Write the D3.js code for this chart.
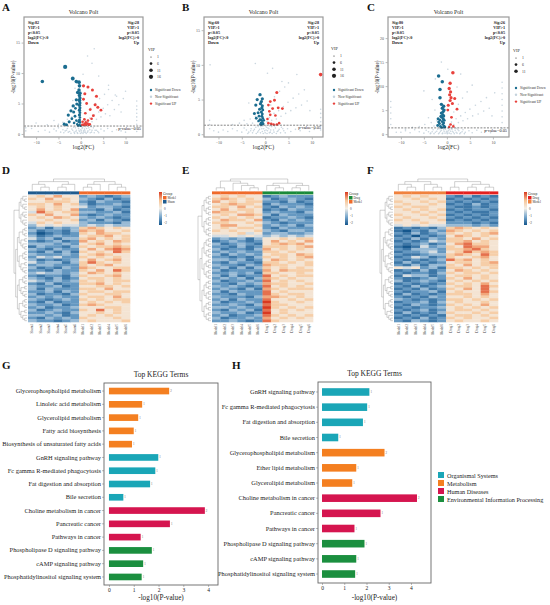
<!DOCTYPE html>
<html><head><meta charset="utf-8">
<script src="https://cdn.jsdelivr.net/npm/d3@7"></script>
<style>body{margin:0;background:#fff}svg{display:block;font-family:"Liberation Serif","Times New Roman",serif}</style>
</head><body><svg id="c" width="550" height="605"></svg>
<script>
// ---------------- DATA ----------------
const volcStats = [[82,28],[60,28],[80,26]];
const vipLevels = [[1,6,11,16],[1,6,11,16],[1,6,11]];
const volcXTicks = [-10,-5,0,5,10];
const volcYTicksAB = [0,5,10,15];
const volcYTicksC = [0,5,10,15,20];

const volcA_down = [[-0.3,1.5,4],[-0.2,1.9,6],[-0.3,2.3,8],[-0.2,2.7,6],[-0.3,3.1,9],[-0.2,3.5,7],[-0.3,3.9,10],[-0.2,4.3,8],[-0.3,4.7,11],[-0.2,5.1,9],[-0.3,5.5,12],[-0.2,5.9,10],[-0.3,6.3,11],[-0.2,6.7,12],[-0.4,7.2,11],[-0.3,7.9,12],[-0.4,8.5,13],[-0.8,1.6,5],[-1.0,2.2,6],[-1.3,2.9,7],[-1.6,3.6,8],[-1.2,4.2,7],[-0.9,4.9,8],[-1.5,1.8,6],[-2.0,2.5,7],[-2.6,2.0,8],[-3.2,1.5,8],[-3.7,1.6,9],[-2.8,3.1,9],[-2.2,3.8,9],[-1.7,4.6,10],[-1.0,5.6,10],[-0.7,6.8,11],[-1.0,8.6,12],[-1.8,9.1,13],[-3.5,11.0,16],[-8.6,8.6,11],[-0.6,1.4,5],[-0.1,1.35,6],[-0.5,2.0,6]];
const volcA_up = [[0.6,7.9,9],[1.6,7.7,8],[2.6,7.2,8],[0.6,5.7,7],[1.3,5.0,7],[3.2,4.8,8],[3.8,4.4,8],[2.1,4.0,7],[4.5,3.9,7],[1.0,3.4,6],[2.8,3.0,7],[0.6,1.5,6],[0.9,1.6,7],[1.2,1.5,6],[1.5,1.7,7],[1.8,1.5,6],[0.4,2.0,6],[0.8,2.4,6],[2.0,1.6,6],[0.3,1.5,5],[1.1,1.9,6],[1.6,2.2,6],[2.4,2.5,6],[3.5,6.2,8],[0.9,6.6,8]];
const volcA_ns = [[-9.5,0.4],[-8,0.6],[-7,0.3],[-6,0.8],[-5.5,0.5],[-5,1.0],[-4.5,0.3],[-4,0.7],[-3.5,0.5],[-3,0.9],[-2.5,0.4],[-2,0.8],[-1.5,0.3],[-1.2,1.0],[-1,0.6],[-0.8,0.2],[-0.5,0.9],[-0.3,0.4],[0,0.7],[0.2,0.2],[0.4,1.1],[0.6,0.5],[0.8,0.8],[1,0.3],[1.3,0.9],[1.6,0.5],[2,0.7],[2.4,0.3],[2.8,1.0],[3.2,0.6],[3.8,0.4],[4.5,0.8],[5.2,0.5],[6,0.9],[7,0.4],[8,0.7],[9,0.5],[10,0.3],
[-3.8,0.2],[-3.2,0.6],[-2.8,0.3],[-2.2,0.1],[-1.8,0.6],[-1.4,0.1],[-1.1,0.4],[-0.7,0.1],[-0.4,0.6],[-0.1,0.1],[0.1,0.5],[0.3,0.9],[0.5,0.1],[0.7,0.3],[0.9,0.6],[1.2,0.1],[1.5,0.3],[1.8,1.0],[2.1,0.2],[2.5,0.6],[3,0.2],[3.5,0.6],[4,0.2],[0.2,1.2],[-0.6,1.2],[1,1.2],[-1.6,1.1],[2.3,1.2],
[0.5,1.6],[1,2.2],[1.5,1.8],[2,2.6],[2.5,2.0],[3,3.1],[3.5,2.4],[4,3.6],[4.5,2.8],[5,4.2],[5.5,3.3],[6,4.8],[6.5,3.0],[7,5.5],[7.5,4.0],[8,6.2],[8.5,4.8],[9,3.6],[9.5,5.8],[10,7.0],[1.2,3.4],[2.2,4.2],[3.3,5.0],[4.2,5.8],[5.3,6.5],[6.2,7.3],[7.7,6.4],[6.2,8.0],[2.5,11.6],[4,9.5],[-1.5,2.0],[-2,2.8],[-2.6,1.8],[-3,2.4],[-4,1.9],[-5,1.6],[-6,2.2],[-7.5,1.5],[-10,1.8],[-11,0.9],[-1.8,5.5],[-1.3,7.5],[0.5,9.8],[1.5,12.8],[3,14],
[12.5,0.4],[12.5,1.0],[12.5,1.6],[12.5,2.2],[12.5,2.8],[12.5,3.4],[12.5,4.0],[12.5,4.6],[12.5,5.4],[-12.3,0.5],[-12.3,1.0]];

const volcB_down = [[-0.7,1.4,5],[-0.6,1.7,6],[-0.8,2.0,7],[-0.5,2.3,6],[-0.7,2.6,8],[-0.6,2.9,7],[-0.8,3.2,8],[-0.5,3.5,7],[-0.7,3.8,9],[-0.6,4.1,8],[-1.0,4.4,9],[-0.9,1.6,6],[-1.1,2.1,7],[-1.3,2.6,7],[-1.5,3.1,8],[-1.2,3.6,8],[-1.7,5.0,9],[-1.1,5.7,10],[-2.0,4.2,9],[-2.3,3.0,8],[-0.4,1.5,5],[-1.0,1.4,6],[-1.4,1.9,6],[-0.3,2.0,6],[-1.9,2.3,7],[-0.8,4.7,9],[-0.6,5.1,9]];
const volcB_up = [[2.5,6.0,8],[2.0,4.9,7],[1.1,4.7,7],[0.7,4.2,6],[1.6,3.7,7],[2.8,3.8,7],[3.7,3.7,7],[1.1,2.8,6],[0.7,1.6,6],[1.3,1.5,6],[1.8,1.4,6],[2.5,1.4,6],[3.0,1.6,6],[0.5,2.2,6],[0.9,3.3,6],[2.2,2.7,6],[11.9,8.6,12]];
const volcB_ns = [[-10,0.3],[-9,0.6],[-8,0.4],[-7,0.8],[-6,0.5],[-5,0.3],[-4.5,0.9],[-4,0.6],[-3.5,0.3],[-3,0.8],[-2.5,0.5],[-2,1.0],[-1.6,0.3],[-1.2,0.7],[-0.9,1.1],[-0.6,0.4],[-0.3,0.8],[0,0.2],[0.3,1.0],[0.5,0.5],[0.8,0.8],[1.1,0.3],[1.4,1.1],[1.8,0.6],[2.2,0.9],[2.6,0.4],[3,0.7],[3.5,1.0],[4,0.5],[4.8,0.8],[5.5,0.4],[6.5,0.7],[7.5,0.5],[8.5,0.9],[9.5,0.4],[10.5,0.7],[-11,0.5],
[-3.7,0.1],[-3.1,0.5],[-2.7,0.2],[-2.3,0.7],[-1.9,0.1],[-1.4,0.5],[-1.0,0.2],[-0.7,0.8],[-0.4,0.1],[-0.1,0.5],[0.2,0.6],[0.4,0.1],[0.6,0.9],[0.9,0.2],[1.2,0.6],[1.5,0.1],[1.9,0.3],[2.4,0.1],[2.8,0.5],[3.3,0.2],[3.8,0.8],[4.3,0.2],[0.1,1.2],[-0.5,1.2],[1.0,1.2],[-1.5,1.1],[2.0,1.2],
[0.4,1.8],[0.9,2.4],[1.4,2.0],[1.9,3.0],[2.4,2.2],[2.9,3.4],[3.4,2.6],[3.9,4.0],[4.4,3.0],[4.9,4.6],[5.5,3.4],[6,5.2],[6.6,3.8],[7.2,5.8],[7.8,4.2],[8.4,6.4],[9,4.8],[9.6,3.4],[1.2,4.2],[2.0,5.4],[3.1,6.2],[4.2,6.8],[3.6,7.6],[5.0,7.4],[-1.6,1.8],[-2.1,2.6],[-2.7,1.6],[-3.2,2.2],[-3.9,1.5],[-4.5,2.0],[-5.5,1.6],[-7,1.4],[-2.1,10.2],[-11.8,10.0],[0.5,8.8],[1.6,9.5],[-3.5,4.5],[6.8,8.6],
[11.9,0.6],[11.9,1.2],[11.9,1.8],[11.9,2.4],[11.9,3.0],[11.9,3.6],[-11.9,0.8],[-11.9,1.4],[-11.9,2.0]];

const volcC_down = [[-0.8,1.4,5],[-0.6,1.7,6],[-0.9,2.0,6],[-0.7,2.3,7],[-1.0,2.6,7],[-0.6,2.9,8],[-0.8,3.2,8],[-1.1,3.5,8],[-0.7,3.8,9],[-0.9,4.1,8],[-1.2,4.4,9],[-0.8,4.7,9],[-0.6,5.0,9],[-1.0,5.4,10],[-0.7,5.8,10],[-1.4,1.6,6],[-1.6,2.2,7],[-1.5,2.9,7],[-1.3,3.7,8],[-1.8,2.5,7],[-1.2,6.2,10],[-1.5,7.6,11],[-1.5,9.3,11],[-1.0,10.9,11],[-1.8,12.1,11],[-0.4,1.5,5],[-1.2,1.4,6],[-2.0,1.8,7],[-1.9,3.2,8]];
const volcC_up = [[1.3,12.8,11],[0.7,10.6,10],[0.5,9.5,10],[0.8,8.8,9],[0.6,8.2,9],[0.9,7.6,9],[0.7,7.0,9],[1.7,7.4,8],[0.3,6.0,8],[0.2,5.0,7],[1.0,3.5,7],[0.8,2.0,6],[0.5,1.5,5],[1.4,1.6,6],[2.2,5.2,7],[1.2,6.4,8]];
const volcC_ns = [[-10,0.4],[-9,0.7],[-8,0.3],[-7,0.9],[-6,0.5],[-5,0.2],[-4.5,0.8],[-4,0.5],[-3.5,0.2],[-3,0.9],[-2.5,0.4],[-2,1.0],[-1.6,0.3],[-1.2,0.8],[-0.9,0.2],[-0.6,0.6],[-0.3,1.0],[0,0.3],[0.3,0.8],[0.5,0.2],[0.8,0.6],[1.1,1.0],[1.4,0.4],[1.8,0.8],[2.2,0.2],[2.6,0.7],[3,0.3],[3.5,0.9],[4,0.4],[4.8,0.7],[5.5,0.3],[6.5,0.8],[7.5,0.4],[8.5,0.7],[9.5,0.3],[10.5,0.6],[-11,0.4],
[-3.6,0.1],[-3.2,0.5],[-2.8,0.1],[-2.2,0.6],[-1.8,0.1],[-1.4,0.6],[-1.0,0.1],[-0.7,0.9],[-0.4,0.2],[-0.1,0.6],[0.1,0.1],[0.2,0.5],[0.6,0.9],[0.9,0.1],[1.2,0.6],[1.6,0.1],[2.0,0.4],[2.4,0.9],[2.8,0.1],[3.3,0.5],[3.8,0.1],[0.3,1.2],[-0.5,1.2],[1.0,1.2],[-1.5,1.1],[2.1,1.2],
[0.5,1.8],[1.0,2.5],[1.5,2.0],[2.0,3.2],[2.5,2.4],[3.0,3.8],[3.5,2.8],[4.0,4.5],[4.5,3.2],[5.0,5.2],[5.6,3.8],[6.2,6.0],[6.8,4.2],[7.4,6.8],[8.0,4.8],[8.6,7.6],[9.2,5.4],[9.8,3.8],[10.4,8.6],[1.5,4.6],[2.5,6.2],[3.4,7.5],[4.4,8.8],[2.2,9.8],[5.5,10.2],[-1.6,1.9],[-2.2,2.8],[-2.8,1.7],[-3.4,2.4],[-4.0,3.4],[-4.8,2.0],[-6.0,1.6],[-7.5,1.4],[-9,1.0],[-2.6,5.0],[-3.2,7.2],[-2.5,11.5],[0.2,13.5],[-1.2,15],[3,12.5],[-5,9],
[12,1.2],[12,2.4],[12,3.6],[12,4.8],[12,6.0],[12,7.2],[12,8.4],[12,9.6],[12,10.8],[-12.2,2.0],[-12.2,3.2],[-12.2,4.4],[-12.2,5.6],[-12.2,6.8]];

// heatmap values: each digit 0..9 (0 = lowest z-score, 9 = highest)
const heatD = ["565755232123","657565321312","556665213221","665756312232","565655423321","575657221312","486566332231","657557212322","565765323212","556556231321","465655322213","354544343433",
"231323676565","312213767556","201212657665","312322566756","423133675656","212312756576","333232567565","132213656676","321322575787","213131656586","322232567655","243422656565","312123575675","423313686565","233222656755","312132765566","221322657586","343323576565","212213655675","321312566565","432323656566","213122667565","322312556656","313222665755","223132566566","312213655665","232322566575","321232656566","213122565656","322312676555","231223555665","312322658565","223213556565","332312565655","213232655565","322123565556"];
const heatE = ["565655123222","676565312321","756566221312","567665132221","665756213232","575665121322","766565232213","565776313222","656565122321","576657213232","665565321222","577556232313","565665213222","656556321332","555645233223","445454343434",
"232313556566","123212575657","312321567675","221312666567","312213756565","232322665655","313232566576","221213656567","332312576565","213221665656","322132766556","231313656565","312222757666","223231665565","313122856566","232313765655","312232856565","221323766556","323212856565","232131765666","313222856555","221322865665","322213776565","231322855656","312232965565","223213866555","332322965656","213231856565","322312956555","231223865656","312232756565","223212865555"];
const heatF = ["565655213121","556565121212","655656212121","565565121312","656655211212","565656121221","556565212112","655656121212","565565212121","656556121212","555655222121","454544333232",
"121213676565","102132765656","213123656567","120212576565","213132665756","121243667565","212312578665","101423658775","213332667865","122342568676","211233676586","124312655675","212123867565","131212566567","213133657566","545231665656","121312576565","212213656656","143312566565","211232657565","312321565656","121212656575","213123566586","121312657585","212231565586","131212666575","212132556565","321212665656","122313565565","213212656575","121223565656","212312566565","131213655656","212121566565","121312656556","213212565565"];
const heatSplits = [12,16,12];
const colTrees = [
  [[[0,[1,2]],[[3,4],5]],[[[6,7],8],[9,[10,11]]]],
  [[[0,1],[2,[3,[4,5]]]],[[6,[7,8]],[[9,10],11]]],
  [[[0,[1,2]],[3,[4,5]]],[[6,7],[[8,9],[10,11]]]]
];
const groupNames = [["Sham","Model"],["Model","Drug"],["Model","Drug"]];
const groupColors = [["#1f5b8e","#ee6a2c"],["#ef6a2a","#1a8a3a"],["#f0823e","#e3201f"]];
const samples = [
  ["Sham1","Sham2","Sham3","Sham4","Sham5","Sham6","Model1","Model2","Model3","Model4","Model5","Model6"],
  ["Model1","Model2","Model3","Model4","Model5","Model6","Drug1","Drug2","Drug3","Drug4","Drug5","Drug6"],
  ["Model1","Model2","Model3","Model4","Model5","Model6","Drug1","Drug2","Drug3","Drug4","Drug5","Drug6"]
];
const heatLegendTicks = [1,0,-1,-2];

const keggCategories = ["Organismal Systems","Metabolism","Human Diseases","Environmental Information Processing"];
const keggColors = ["#1aa6b7","#f47f20","#d5154f","#1b8f3f"];
const keggG_terms = ["Glycerophospholipid metabolism","Linoleic acid metabolism","Glycerolipid metabolism","Fatty acid biosynthesis","Biosynthesis of unsaturated fatty acids","GnRH signaling pathway","Fc gamma R-mediated phagocytosis","Fat digestion and absorption","Bile secretion","Choline metabolism in cancer","Pancreatic cancer","Pathways in cancer","Phospholipase D signaling pathway","cAMP signaling pathway","Phosphatidylinositol signaling system"];
const keggG_vals = [2.43,1.34,1.18,1.0,0.93,1.99,1.87,1.66,0.58,3.87,2.46,1.28,1.73,1.38,1.32];
const keggG_cats = [1,1,1,1,1,0,0,0,0,2,2,2,3,3,3];
const keggG_counts = [2,1,1,1,1,1,1,1,1,2,1,1,1,1,1];
const keggH_terms = ["GnRH signaling pathway","Fc gamma R-mediated phagocytosis","Fat digestion and absorption","Bile secretion","Glycerophospholipid metabolism","Ether lipid metabolism","Glycerolipid metabolism","Choline metabolism in cancer","Pancreatic cancer","Pathways in cancer","Phospholipase D signaling pathway","cAMP signaling pathway","Phosphatidylinositol signaling system"];
const keggH_vals = [2.13,2.03,1.84,0.73,2.81,1.54,1.36,4.27,2.63,1.46,1.91,1.54,1.49];
const keggH_cats = [0,0,0,0,1,1,1,2,2,2,3,3,3];
const keggH_counts = [1,1,1,1,2,1,1,2,1,1,1,1,1];
const keggXTicks = [0,1,2,3,4];

// ---------------- DRAWING ----------------
const FONT = '"Liberation Serif","Times New Roman",serif';
const svg = d3.select('#c');
svg.append('rect').attr('width',550).attr('height',605).attr('fill','#fff');
const COL_DOWN = '#1b6d90', COL_UP = '#e8413c', COL_NS = '#c4d2dc';
const intFmt = d3.format('d');

[["A",2,11],["B",182,11],["C",367,11],["D",2,174],["E",182,174],["F",367,174],["G",2,369],["H",232,369]]
 .forEach(p=>svg.append('text').attr('x',p[1]).attr('y',p[2]).text(p[0]).attr('font-size',11).attr('font-weight','bold').attr('fill','#111'));

function styleAxis(a, fs, col){
  a.attr('font-family', FONT);
  a.select('.domain').remove();
  a.selectAll('text').attr('font-size',fs).attr('fill',col).attr('font-family',FONT);
  a.selectAll('line').attr('stroke','#666').attr('stroke-width',0.45);
}

function volcano(o){
  const g = svg.append('g');
  const x = d3.scaleLinear().domain(o.xDom).range([o.l,o.r]);
  const y = d3.scaleLinear().domain(o.yDom).range([o.b,o.t]);
  const rs = d3.scaleSqrt().domain([1,16]).range([0.6,2.1]);
  g.append('g').selectAll('circle').data(o.ns).join('circle')
    .attr('cx',d=>x(d[0])).attr('cy',d=>y(d[1])).attr('r',0.8).attr('fill',COL_NS).attr('opacity',0.9);
  g.append('g').selectAll('circle').data(o.down).join('circle')
    .attr('cx',d=>x(d[0])).attr('cy',d=>y(d[1])).attr('r',d=>rs(d[2])).attr('fill',COL_DOWN);
  g.append('g').selectAll('circle').data(o.up).join('circle')
    .attr('cx',d=>x(d[0])).attr('cy',d=>y(d[1])).attr('r',d=>rs(d[2])).attr('fill',COL_UP);
  g.append('line').attr('x1',o.l).attr('x2',o.r).attr('y1',y(1.3)).attr('y2',y(1.3))
    .attr('stroke','#333').attr('stroke-width',0.6).attr('stroke-dasharray','2,1.3');
  g.append('text').attr('x',o.r-2).attr('y',y(1.3)+4).attr('text-anchor','end').attr('font-size',4.3).attr('fill','#222').text('p-value=0.05');
  g.append('rect').attr('x',o.l).attr('y',o.t).attr('width',o.r-o.l).attr('height',o.b-o.t)
    .attr('fill','none').attr('stroke','#9a9a9a').attr('stroke-width',1.2);
  const ax = g.append('g').attr('transform',`translate(0,${o.b+0.6})`).call(d3.axisBottom(x).tickValues(volcXTicks).tickFormat(intFmt).tickSize(1.8).tickPadding(1.5));
  const ay = g.append('g').attr('transform',`translate(${o.l-0.6},0)`).call(d3.axisLeft(y).tickValues(o.yTicks).tickFormat(intFmt).tickSize(1.8).tickPadding(1.5));
  styleAxis(ax,4,'#555'); styleAxis(ay,4,'#555');
  const cx = (o.l+o.r)/2;
  g.append('text').attr('x',cx).attr('y',o.t-3).attr('text-anchor','middle').attr('font-size',5.8).attr('fill','#222').text('Volcano Polt');
  g.append('text').attr('x',cx).attr('y',o.b+12).attr('text-anchor','middle').attr('font-size',5.8).attr('fill','#222').text('log2(FC)');
  g.append('text').attr('transform',`translate(${o.l-9},${(o.t+o.b)/2}) rotate(-90)`).attr('text-anchor','middle').attr('font-size',5.2).attr('fill','#222').text('-log10(P-value)');
  const left = ['Sig:'+o.stats[0],'VIP>1','p<0.05','log2(FC)<0','Down'];
  const right = ['Sig:'+o.stats[1],'VIP>1','p<0.05','log2(FC)>0','Up'];
  left.forEach((t,i)=>g.append('text').attr('x',o.l+4).attr('y',o.t+7+i*4.9).attr('font-size',4.2).attr('font-weight','bold').attr('fill','#222').text(t));
  right.forEach((t,i)=>g.append('text').attr('x',o.r-4).attr('y',o.t+7+i*4.9).attr('text-anchor','end').attr('font-size',4.2).attr('font-weight','bold').attr('fill','#222').text(t));
  const lg = g.append('g');
  lg.append('text').attr('x',o.lx).attr('y',o.ly).attr('font-size',4.2).attr('fill','#222').text('VIP');
  o.vip.forEach((v,i)=>{
    lg.append('circle').attr('cx',o.lx+3).attr('cy',o.ly+6+i*6.6).attr('r',rs(v)).attr('fill','#222');
    lg.append('text').attr('x',o.lx+9).attr('y',o.ly+7.3+i*6.6).attr('font-size',3.8).attr('fill','#333').text(v);
  });
  const items = [['Significant Down',COL_DOWN],['Non-Significant',COL_NS],['Significant UP',COL_UP]];
  items.forEach((it,i)=>{
    const yy = o.ly2+i*6.8;
    lg.append('circle').attr('cx',o.lx+3).attr('cy',yy).attr('r',1.2).attr('fill',it[1]);
    lg.append('text').attr('x',o.lx+7).attr('y',yy+1.3).attr('font-size',3.6).attr('fill','#333').text(it[0]);
  });
}

volcano({l:24,r:143,t:17,b:137,xDom:[-12.7,13.9],yDom:[-0.5,19.2],yTicks:volcYTicksAB,ns:volcA_ns,down:volcA_down,up:volcA_up,stats:volcStats[0],vip:vipLevels[0],lx:148,ly:51,ly2:90});
volcano({l:204,r:323,t:17,b:137,xDom:[-13.1,12.4],yDom:[-0.4,16.9],yTicks:volcYTicksAB,ns:volcB_ns,down:volcB_down,up:volcB_up,stats:volcStats[1],vip:vipLevels[1],lx:331,ly:50,ly2:90});
volcano({l:388,r:509,t:17,b:137,xDom:[-12.8,13.5],yDom:[-0.6,24.4],yTicks:volcYTicksC,ns:volcC_ns,down:volcC_down,up:volcC_up,stats:volcStats[2],vip:vipLevels[2],lx:513,ly:52,ly2:88});

// heatmaps
const heatColor = d3.scaleLinear().domain([0,2.5,4.5,6.5,9]).range(['#15578d','#79a8ce','#f3efe8','#f7c393','#d9381f']).interpolate(d3.interpolateRgb);
const defs = svg.append('defs');
const grad = defs.append('linearGradient').attr('id','hg').attr('x1',0).attr('y1',0).attr('x2',0).attr('y2',1);
[9,6.5,4.5,2.5,0].forEach((v,i)=>grad.append('stop').attr('offset',i/4).attr('stop-color',heatColor(v)));

function drawDendro(g, tree, leafPos, base, tip, orient){
  const root = d3.hierarchy(tree, d=>Array.isArray(d)?d:null);
  const H = root.height;
  root.eachAfter(n=>{ n.p = n.children ? d3.mean(n.children, c=>c.p) : leafPos(n.data); n.h = base + (tip-base)*Math.pow(n.height/H,0.9); });
  const segs = [];
  root.each(n=>{ if(n.children) n.children.forEach(c=>segs.push([n.p,n.h,c.p,c.h])); });
  g.append('g').selectAll('path').data(segs).join('path')
    .attr('d', s => orient==='top' ? `M${s[0]},${s[1]}H${s[2]}V${s[3]}` : `M${s[1]},${s[0]}V${s[2]}H${s[3]}`)
    .attr('fill','none').attr('stroke','#8c8c8c').attr('stroke-width',0.4);
}
function splitTree(lo,hi){ if(hi-lo===1) return lo; const m=Math.floor((lo+hi)/2); return [splitTree(lo,m),splitTree(m,hi)]; }

function heatmap(o){
  const g = svg.append('g');
  const rows = o.data.map(s=>s.split('').map(Number));
  const nC = rows[0].length, nR = rows.length;
  const x = d3.scaleBand().domain(d3.range(nC)).range([o.l,o.r]);
  const y = d3.scaleBand().domain(d3.range(nR)).range([o.t,o.b]);
  const cells = [];
  rows.forEach((r,i)=>r.forEach((v,j)=>cells.push({i,j,v})));
  g.append('g').selectAll('rect').data(cells).join('rect')
    .attr('x',d=>x(d.j)).attr('y',d=>y(d.i)).attr('width',x.bandwidth()+0.3).attr('height',y.bandwidth()+0.3)
    .attr('fill',d=>heatColor(d.v));
  g.append('g').selectAll('rect').data(d3.range(nC)).join('rect')
    .attr('x',j=>x(j)).attr('y',o.t-3.6).attr('width',x.bandwidth()+0.3).attr('height',3)
    .attr('fill',j=> j<nC/2 ? o.gColors[0] : o.gColors[1]);
  drawDendro(g, o.colTree, leaf=>x(leaf)+x.bandwidth()/2, o.t-4.5, o.t-16, 'top');
  const rowTree = [splitTree(0,o.split), splitTree(o.split,nR)];
  drawDendro(g, rowTree, leaf=>y(leaf)+y.bandwidth()/2, o.l-1, o.l-14, 'left');
  g.append('g').selectAll('text').data(o.samples).join('text')
    .attr('transform',(d,j)=>`translate(${x(j)+x.bandwidth()/2+1.2},${o.b+2}) rotate(-90)`)
    .attr('text-anchor','end').attr('font-size',3.4).attr('fill','#444').text(d=>d);
  const lg = g.append('g');
  lg.append('rect').attr('x',o.lx).attr('y',192).attr('width',3).attr('height',33).attr('fill','url(#hg)');
  const ls = d3.scaleLinear().domain([2.3,-2.3]).range([192,225]);
  heatLegendTicks.forEach(t=>lg.append('text').attr('x',o.lx+5).attr('y',ls(t)+1.2).attr('font-size',3.4).attr('fill','#444').text(t));
  lg.append('text').attr('x',o.lx+4).attr('y',194.5).attr('font-size',3.6).attr('fill','#333').text('Group');
  [1,0].forEach((gi,k)=>{
    lg.append('rect').attr('x',o.lx+4).attr('y',196+k*4).attr('width',3.5).attr('height',3.5).attr('fill',o.gColors[gi]);
    lg.append('text').attr('x',o.lx+8.5).attr('y',199+k*4).attr('font-size',3.2).attr('fill','#333').text(o.gNames[gi]);
  });
}
heatmap({l:28,r:130,t:195,b:322,data:heatD,split:heatSplits[0],colTree:colTrees[0],gColors:groupColors[0],gNames:groupNames[0],samples:samples[0],lx:159});
heatmap({l:212,r:313,t:195,b:322,data:heatE,split:heatSplits[1],colTree:colTrees[1],gColors:groupColors[1],gNames:groupNames[1],samples:samples[1],lx:345});
heatmap({l:394,r:498,t:195,b:322,data:heatF,split:heatSplits[2],colTree:colTrees[2],gColors:groupColors[2],gNames:groupNames[2],samples:samples[2],lx:524});

// KEGG bars
function kegg(o){
  const g = svg.append('g');
  const x = d3.scaleLinear().domain(o.xDom).range([o.l,o.r]);
  const y = d3.scaleBand().domain(o.terms).range(o.yr).paddingInner(0.5).paddingOuter(0.25);
  const data = o.terms.map((t,i)=>({t,v:o.vals[i],c:o.cats[i],n:o.counts[i]}));
  g.append('g').selectAll('rect').data(data).join('rect')
    .attr('x',x(0)).attr('y',d=>y(d.t)).attr('width',d=>x(d.v)-x(0)).attr('height',y.bandwidth())
    .attr('fill',d=>keggColors[d.c]);
  g.append('g').selectAll('text').data(data).join('text')
    .attr('x',d=>x(d.v)+1).attr('y',d=>y(d.t)+y.bandwidth()/2+1).attr('font-size',3).attr('fill','#666').text(d=>d.n);
  g.append('rect').attr('x',o.l).attr('y',o.t).attr('width',o.r-o.l).attr('height',o.b-o.t)
    .attr('fill','none').attr('stroke','#666').attr('stroke-width',0.9);
  const ax = g.append('g').attr('transform',`translate(0,${o.b})`).call(d3.axisBottom(x).tickValues(keggXTicks).tickFormat(intFmt).tickSize(2).tickPadding(1.5));
  const ay = g.append('g').attr('transform',`translate(${o.l},0)`).call(d3.axisLeft(y).tickSize(2).tickPadding(1));
  styleAxis(ax,5.5,'#222'); styleAxis(ay,6.4,'#222');
  g.append('text').attr('x',(o.l+o.r)/2).attr('y',o.t-6).attr('text-anchor','middle').attr('font-size',7.5).attr('fill','#222').text('Top KEGG Terms');
  g.append('text').attr('x',(o.l+o.r)/2).attr('y',600).attr('text-anchor','middle').attr('font-size',7.2).attr('fill','#222').text('-log10(P-value)');
}
kegg({l:104,r:218,t:383,b:585,xDom:[-0.2,4.4],yr:[384.4,583.6],terms:keggG_terms,vals:keggG_vals,cats:keggG_cats,counts:keggG_counts});
kegg({l:318,r:431,t:382,b:583,xDom:[-0.18,4.9],yr:[384.4,581.6],terms:keggH_terms,vals:keggH_vals,cats:keggH_cats,counts:keggH_counts});

const kl = svg.append('g');
keggCategories.forEach((c,i)=>{
  kl.append('rect').attr('x',438).attr('y',472+i*8).attr('width',6).attr('height',6).attr('fill',keggColors[i]);
  kl.append('text').attr('x',447).attr('y',477.5+i*8).attr('font-size',6.2).attr('fill','#222').text(c);
});
</script></body></html>
